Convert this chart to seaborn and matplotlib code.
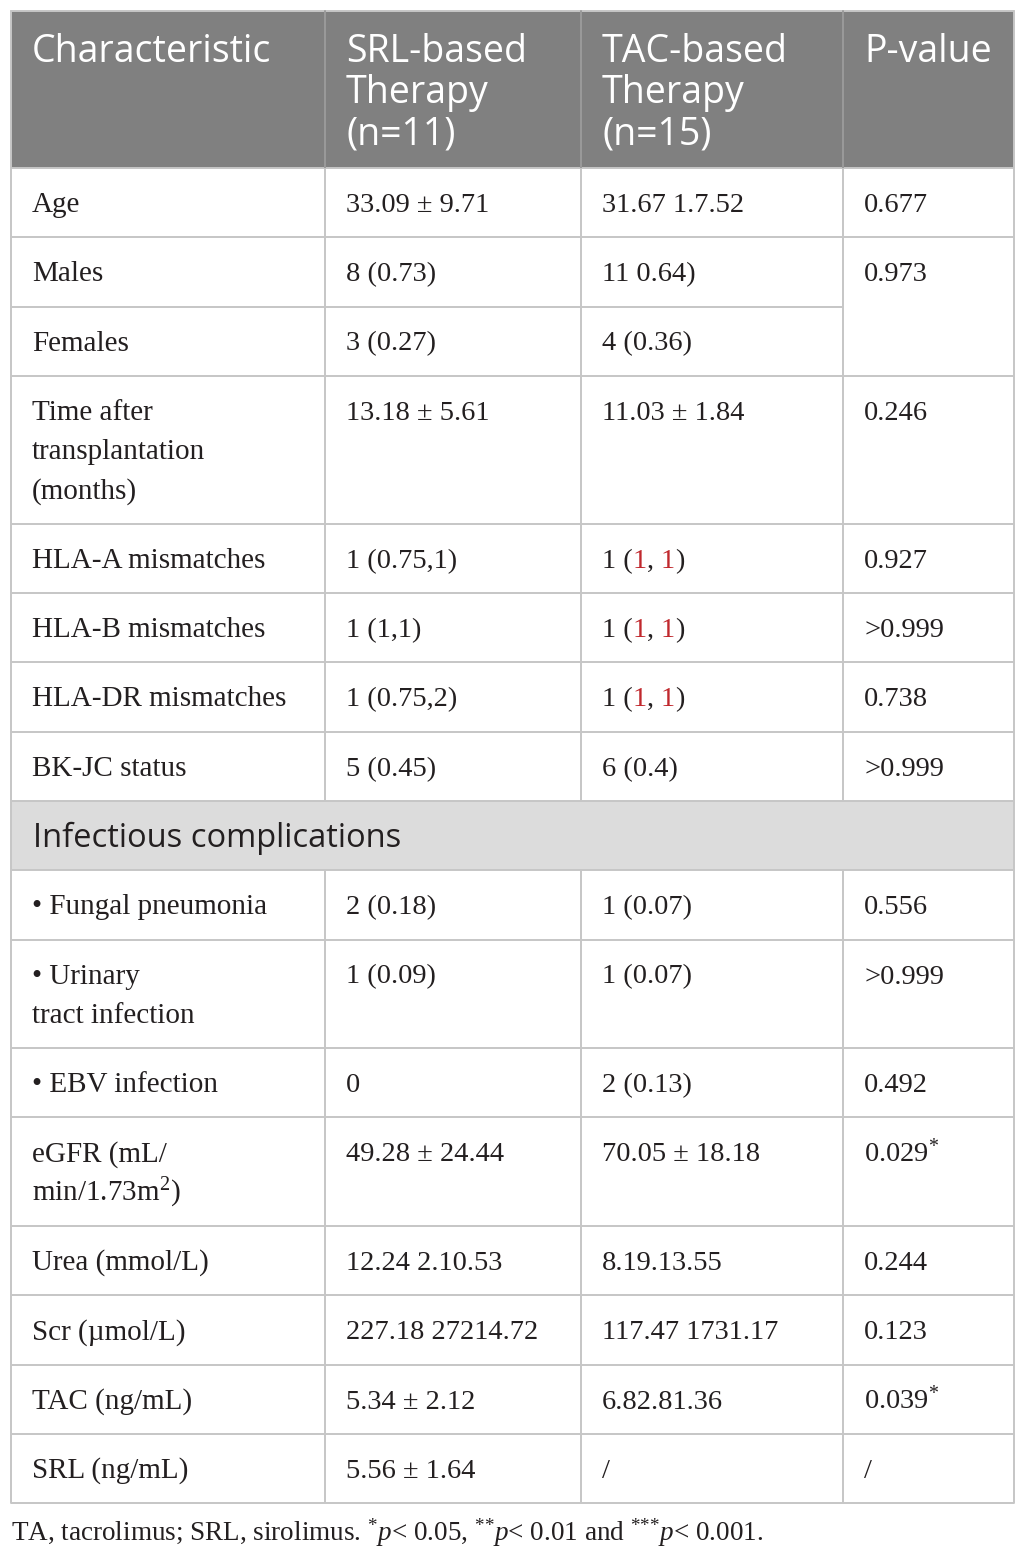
import matplotlib
matplotlib.use("Agg")
import matplotlib.pyplot as plt
import seaborn as sns

# table content
header = ["Characteristic", "SRL-based\nTherapy\n(n=11)", "TAC-based\nTherapy\n(n=15)", "P-value"]
characteristics = [
    "Age", "Males", "Females", "Time after\ntransplantation\n(months)",
    "HLA-A mismatches", "HLA-B mismatches", "HLA-DR mismatches", "BK-JC status",
    "Infectious complications",
    "\u2022 Fungal pneumonia", "\u2022 Urinary\ntract infection", "\u2022 EBV infection",
    "eGFR (mL/\nmin/1.73m$^{2}$)", "Urea (mmol/L)", "Scr (\u00b5mol/L)",
    "TAC (ng/mL)", "SRL (ng/mL)",
]
srl_values = [
    "33.09 \u00b1 9.71", "8 (0.73)", "3 (0.27)", "13.18 \u00b1 5.61",
    "1 (0.75,1)", "1 (1,1)", "1 (0.75,2)", "5 (0.45)",
    None,
    "2 (0.18)", "1 (0.09)", "0",
    "49.28 \u00b1 24.44", "12.24 2.10.53", "227.18 27214.72", "5.34 \u00b1 2.12", "5.56 \u00b1 1.64",
]
# {..} marks text printed in red
tac_values = [
    "31.67 1.7.52", "11 0.64)", "4 (0.36)", "11.03 \u00b1 1.84",
    "1 ({1}, {1})", "1 ({1}, {1})", "1 ({1}, {1})", "6 (0.4)",
    None,
    "1 (0.07)", "1 (0.07)", "2 (0.13)",
    "70.05 \u00b1 18.18", "8.19.13.55", "117.47 1731.17", "6.82.81.36", "/",
]
p_values = [
    "0.677", "0.973", "", "0.246",
    "0.927", ">0.999", "0.738", ">0.999",
    None,
    "0.556", ">0.999", "0.492",
    "0.029${}^{{*}}$", "0.244", "0.123", "0.039${}^{{*}}$", "/",
]
footnote = ("TA, tacrolimus; SRL, sirolimus. ${}^{{*}}p$< 0.05, ${}^{{*}{*}}p$< 0.01 "
            "and ${}^{{*}{*}{*}}p$< 0.001.")

sns.set_theme(style="white")
plt.rcParams["mathtext.fontset"] = "custom"
plt.rcParams["mathtext.rm"] = "Liberation Serif"
plt.rcParams["mathtext.it"] = "Liberation Serif:italic"

W, H = 1025, 1558
fig = plt.figure(figsize=(W / 100, H / 100), dpi=100)
ax = fig.add_axes([0, 0, 1, 1])
ax.set_xlim(0, W)
ax.set_ylim(H, 0)
ax.axis("off")

col_x = [11, 325, 581, 843, 1014]
pad = 21
line_col = "#c6c6c6"
head_bg = "#808080"
sect_bg = "#dcdcdc"
red = "#c0282d"
ink = "#231f20"
serif_txt = dict(family="Liberation Serif", fontsize=21, color=ink)
serif_num = dict(family="Liberation Serif", fontsize=20.5, color=ink)
sans_head = dict(family="Open Sans", fontsize=27, color="white")

head_top, head_bot = 11, 168
single, step = 69.3, 39.3

# row boundaries from number of text lines
tops = [head_bot]
for c in characteristics:
    n = c.count("\n") + 1
    tops.append(tops[-1] + single + step * (n - 1))

# header
ax.fill_between([col_x[0], col_x[-1]], head_top, head_bot, color=head_bg, lw=0)
for j, txt in enumerate(header):
    for k, part in enumerate(txt.split("\n")):
        ax.text(col_x[j] + pad, head_top + 51 + 41 * k, part, va="baseline", ha="left", **sans_head)


def draw_cell(x, top, txt, style):
    for k, part in enumerate(txt.split("\n")):
        y = top + 44 + step * k
        if "{" in part and "$" not in part:
            # split into black/red pieces and chain them
            pieces = []
            buf = ""
            for ch in part:
                if ch == "{":
                    pieces.append((buf, False)); buf = ""
                elif ch == "}":
                    pieces.append((buf, True)); buf = ""
                else:
                    buf += ch
            pieces.append((buf, False))
            prev = None
            for s, r in pieces:
                if not s:
                    continue
                kw = dict(style)
                if r:
                    kw["color"] = red
                if prev is None:
                    prev = ax.text(x, y, s, va="baseline", ha="left", **kw)
                else:
                    prev = ax.annotate(s, xy=(1, 0), xycoords=prev, va="bottom", ha="left", **kw)
        else:
            ax.text(x, y, part, va="baseline", ha="left", **style)


for i, name in enumerate(characteristics):
    top, bot = tops[i], tops[i + 1]
    if srl_values[i] is None:
        ax.fill_between([col_x[0], col_x[-1]], top, bot, color=sect_bg, lw=0)
        ax.text(col_x[0] + 22, top + 46, name, va="baseline", ha="left",
                family="Open Sans", fontsize=23.5, color=ink)
        continue
    draw_cell(col_x[0] + pad, top, name, serif_txt)
    draw_cell(col_x[1] + pad, top, srl_values[i], serif_num)
    draw_cell(col_x[2] + pad, top, tac_values[i], serif_num)
    if p_values[i]:
        draw_cell(col_x[3] + pad, top, p_values[i], serif_num)

# grid lines
lw = 1.4
for i in range(len(characteristics) + 1):
    y = tops[i]
    x_end = col_x[-1]
    if i < len(characteristics) and p_values[i] == "":
        x_end = col_x[3]
    ax.plot([col_x[0], x_end], [y, y], color=line_col, lw=lw, solid_capstyle="butt")
ax.plot([col_x[0], col_x[-1]], [head_top, head_top], color=line_col, lw=lw)
for j, x in enumerate(col_x):
    if j in (0, len(col_x) - 1):
        ax.plot([x, x], [head_top, tops[-1]], color=line_col, lw=lw)
        continue
    ax.plot([x, x], [head_top, head_bot], color="#9a9a9a", lw=lw)
    for i in range(len(characteristics)):
        if srl_values[i] is None:
            continue
        ax.plot([x, x], [tops[i], tops[i + 1]], color=line_col, lw=lw, solid_capstyle="butt")

ax.text(11, tops[-1] + 37, footnote, va="baseline", ha="left",
        family="Liberation Serif", fontsize=19.5, color=ink)

fig.savefig("out.png", dpi=100, facecolor="white")
